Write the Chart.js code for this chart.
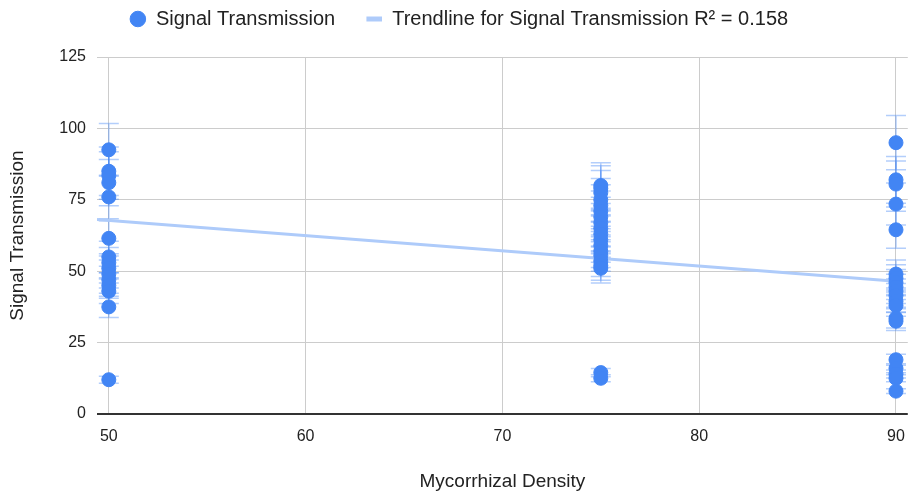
<!DOCTYPE html>
<html>
<head>
<meta charset="utf-8">
<script src="https://cdn.jsdelivr.net/npm/chart.js@4.4.1/dist/chart.umd.min.js"></script>
<style>
  body { margin: 0; background: #fff; overflow: hidden; }
  #wrap { width: 918px; height: 496px; }
</style>
</head>
<body>
<div id="wrap"><canvas id="myChart"></canvas></div>
<script>
// valeurs
var densityLevels = [50, 75, 90];
var signal50 = [92.5, 85, 83.5, 81, 76, 61.5, 55, 53, 51, 49, 47, 45, 43, 37.5, 12];
var signal75 = [80, 79, 77.5, 75, 73, 71, 69, 67, 65, 63, 61, 59, 57, 55.5, 53.5, 52, 51, 14.5, 12.5];
var signal90 = [95, 82, 80.5, 73.5, 64.5, 49, 47.5, 46, 44.5, 43, 41.5, 39.5, 38, 33.5, 32.5, 19, 16, 14, 12.5, 8];
var trendX = [49.4, 90];
var trendY = [68.1, 46.5];
var xTicks = [50, 60, 70, 80, 90];
var yTicks = [0, 25, 50, 75, 100, 125];
var errorFraction = 0.1; // barres d'erreur +/- 10 %

var scatterPoints = [];
[signal50, signal75, signal90].forEach(function (arr, i) {
    arr.forEach(function (v) { scatterPoints.push({ x: densityLevels[i], y: v }); });
});
var trendPoints = trendX.map(function (x, i) { return { x: x, y: trendY[i] }; });

var blue = '#4285F4';
var lightBlue = 'rgba(66, 133, 244, 0.4)';
var trendBlue = '#aecbfa';

// barres d'erreur dessinées sous les points
var errorBars = {
    id: 'errorBars',
    beforeDatasetsDraw: function (chart) {
        var ctx = chart.ctx;
        var xs = chart.scales.x, ys = chart.scales.y;
        ctx.save();
        ctx.strokeStyle = lightBlue;
        ctx.lineWidth = 1.5;
        scatterPoints.forEach(function (p) {
            var px = xs.getPixelForValue(p.x);
            var top = ys.getPixelForValue(p.y * (1 + errorFraction));
            var bot = ys.getPixelForValue(p.y * (1 - errorFraction));
            ctx.beginPath();
            ctx.moveTo(px, top); ctx.lineTo(px, bot);
            ctx.moveTo(px - 10, top); ctx.lineTo(px + 10, top);
            ctx.moveTo(px - 10, bot); ctx.lineTo(px + 10, bot);
            ctx.stroke();
        });
        ctx.restore();
    }
};

// hauteur fixe de la légende
var legendHeight = {
    id: 'legendHeight',
    beforeInit: function (chart) {
        var orig = chart.legend.fit;
        chart.legend.fit = function () {
            orig.call(this);
            this.height = 79;
        };
    }
};

Chart.defaults.font.family = '"Liberation Sans", Arial, sans-serif';
Chart.defaults.font.size = 16;
Chart.defaults.color = '#222';

var ctx = document.getElementById('myChart').getContext('2d');
var myChart = new Chart(ctx, {
    type: 'scatter',
    data: {
        datasets: [{
            label: 'Signal Transmission',
            data: scatterPoints,
            backgroundColor: blue,
            borderColor: blue,
            pointRadius: 7,
            pointHoverRadius: 7,
            order: 0
        }, {
            type: 'line',
            label: 'Trendline for Signal Transmission R\u00b2 = 0.158',
            data: trendPoints,
            borderColor: trendBlue,
            backgroundColor: trendBlue,
            borderWidth: 3,
            pointRadius: 0,
            fill: false,
            order: 1
        }]
    },
    plugins: [errorBars, legendHeight],
    options: {
        responsive: true,
        maintainAspectRatio: false,
        animation: false,
        layout: { padding: { left: 0, right: 0, top: -22, bottom: 0 } },
        plugins: {
            tooltip: { enabled: false },
            legend: {
                position: 'top',
                labels: {
                    usePointStyle: true,
                    boxWidth: 16,
                    boxHeight: 11,
                    padding: 31,
                    color: '#222',
                    font: { size: 20 },
                    generateLabels: function (chart) {
                        var items = Chart.defaults.plugins.legend.labels.generateLabels(chart);
                        items[0].pointStyle = 'circle';
                        items[0].fillStyle = blue;
                        items[0].strokeStyle = blue;
                        items[1].pointStyle = 'line';
                        items[1].strokeStyle = trendBlue;
                        items[1].lineWidth = 5;
                        return items;
                    }
                }
            }
        },
        scales: {
            x: {
                type: 'linear',
                min: 49.4,
                max: 90.6,
                afterBuildTicks: function (axis) {
                    axis.ticks = xTicks.map(function (v) { return { value: v }; });
                },
                afterFit: function (axis) {
                    axis.height = 82;
                },
                grid: { color: '#cccccc', drawTicks: false },
                border: { display: false },
                ticks: { color: '#222', padding: 13 },
                title: { display: true, text: 'Mycorrhizal Density', color: '#222', font: { size: 19 }, padding: { top: 0, bottom: 3 } }
            },
            y: {
                min: 0,
                max: 125,
                afterBuildTicks: function (axis) {
                    axis.ticks = yTicks.map(function (v) { return { value: v }; });
                },
                afterFit: function (axis) {
                    axis.width = 97;
                },
                grid: {
                    drawTicks: false,
                    color: function (c) { return c.tick && c.tick.value === 0 ? '#333333' : '#cccccc'; },
                    lineWidth: function (c) { return c.tick && c.tick.value === 0 ? 2 : 1; }
                },
                border: { display: false },
                ticks: { color: '#222', padding: 11 },
                title: { display: true, text: 'Signal Transmission', color: '#222', font: { size: 19 }, padding: { top: 6, bottom: 0 } }
            }
        }
    }
});
</script>
</body>
</html>
